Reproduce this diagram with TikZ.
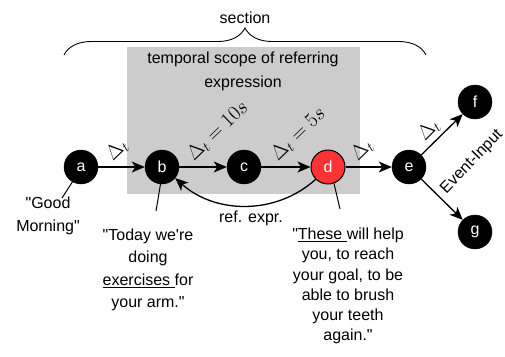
\documentclass[tikz,border=0pt]{standalone}
\usepackage{fontspec}
\setmainfont{Liberation Sans}[Ligatures=TeXOff]
\usetikzlibrary{arrows.meta,decorations.pathreplacing}
\definecolor{scopegrey}{HTML}{CCCCCC}
\definecolor{refred}{HTML}{FF3333}
\begin{document}
\begin{tikzpicture}[x=1pt,y=-1pt,
  ev/.style={circle,fill=black,draw=black,text=white,minimum size=34pt,inner sep=0pt,font=\fontsize{16}{16}\selectfont},
  conn/.style={line width=1.3pt,-{Stealth[length=13pt,width=11pt,inset=3.5pt]}},
  pin/.style={line width=1pt},
  lbl/.style={font=\fontsize{16}{20}\selectfont,inner sep=0pt},
  dlbl/.style={font=\fontsize{19.5}{19.5}\selectfont,inner sep=0pt,rotate=44,anchor=base west},
  quote/.style={font=\fontsize{16}{#1}\selectfont,align=center,inner sep=0pt},
  quote/.default=22.5
]
\useasboundingbox (0,0) rectangle (505,356);
% grey scope
\fill[scopegrey] (127,47) rectangle (360,194);
\node[lbl,align=center,font=\fontsize{16}{24}\selectfont] (scope) at (243,71) {temporal scope of referring\\expression};
% brace
\coordinate (bl) at (64,55);
\coordinate (br) at (426,55);
\draw[line width=0.9pt,decorate,decoration={brace,amplitude=27pt,aspect=0.5}] (bl) -- (br);
\node[lbl] (section) at (245,18) {section};
% events
\node[ev] (a) at (81,167) {a};
\node[ev] (b) at (162,167) {b};
\node[ev] (c) at (244,167) {c};
\node[ev,fill=refred,line width=1pt] (d) at (328,167) {d};
\node[ev] (e) at (409,167) {e};
\node[ev] (f) at (475,102) {f};
\node[ev] (g) at (475,232) {g};
% connectors
\draw[conn] (a) -- (b);
\draw[conn] (b) -- (c);
\draw[conn] (c) -- (d);
\draw[conn] (d) -- (e);
\draw[conn] (e) -- (f);
\draw[conn] (e) -- (g);
\draw[conn] (d.225) .. controls +(-40,36) and +(40,36) .. (b.-40);
\node[lbl] (ref) at (251,218) {ref. expr.};
% edge labels
\node[dlbl] (l1) at (113,162) {$\Delta_t$};
\node[dlbl] (l2) at (194,162) {$\Delta_t = 10s$};
\node[dlbl] (l3) at (278,162) {$\Delta_t = 5s$};
\node[dlbl] (l4) at (358,162) {$\Delta_t$};
\node[dlbl,rotate=1] (l5) at (425,142) {$\Delta_t$};
\node[lbl,rotate=46] (ei) at (472,162) {Event-Input};
% quotes
\coordinate (qa) at (62,198);
\coordinate (qb) at (156,211);
\coordinate (qd) at (340,209);
\draw[pin] (a.240) -- (qa);
\draw[pin] (b.265) -- (qb);
\draw[pin] (d.290) -- (qd);
\node[quote] (ta) at (48,216) {"Good\\Morning"};
\node[quote] (tb) at (148,270) {"Today we're\\doing\\\underline{exercises\ }for\\your arm."};
\node[quote=20.2] (td) at (348,286) {"\underline{These\ }will help\\you, to reach\\your goal, to be\\able to brush\\your teeth\\again."};
\end{tikzpicture}
\end{document}
